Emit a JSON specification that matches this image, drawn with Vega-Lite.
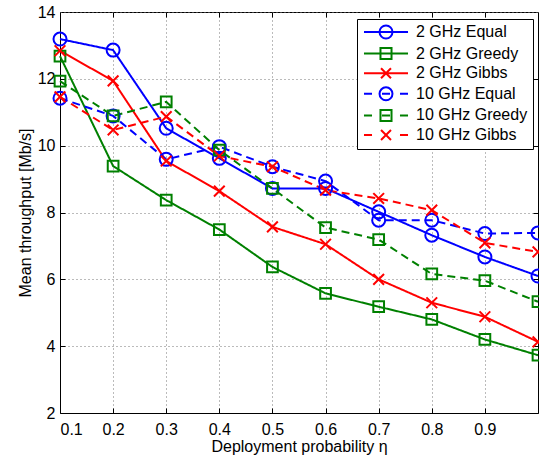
{
  "$schema": "https://vega.github.io/schema/vega-lite/v6.json",
  "autosize": {"type": "none"},
  "padding": {"left": 60, "top": 12, "right": 1, "bottom": 44},
  "width": 478,
  "height": 401,
  "background": "white",
  "config": {
    "font": "Liberation Sans",
    "view": {"stroke": "black", "strokeWidth": 1},
    "axis": {
      "domainColor": "black",
      "labelColor": "black",
      "labelFont": "Liberation Sans",
      "labelFontSize": 16,
      "titleFont": "Liberation Sans",
      "titleFontSize": 16,
      "titleFontWeight": "normal",
      "titleColor": "black",
      "gridColor": "#777777",
      "gridDash": [1, 3],
      "gridWidth": 1,
      "tickColor": "black",
      "tickWidth": 1
    },
    "legend": {
      "orient": "none",
      "legendX": 297,
      "legendY": 7,
      "strokeColor": "black",
      "fillColor": "white",
      "padding": 5,
      "labelFont": "Liberation Sans",
      "labelFontSize": 16,
      "labelColor": "black",
      "symbolOffset": 16,
      "labelOffset": 22,
      "symbolSize": 144,
      "symbolStrokeWidth": 2,
      "symbolOpacity": 1,
      "rowPadding": 0.6
    }
  },
  "resolve": {"axis": {"x": "independent", "y": "independent"}},
  "data": {
    "values": [
      {"x": 0.1, "y": 13.19, "series": "2 GHz Equal", "band": "2 GHz"},
      {"x": 0.2, "y": 12.86, "series": "2 GHz Equal", "band": "2 GHz"},
      {"x": 0.3, "y": 10.52, "series": "2 GHz Equal", "band": "2 GHz"},
      {"x": 0.4, "y": 9.62, "series": "2 GHz Equal", "band": "2 GHz"},
      {"x": 0.5, "y": 8.72, "series": "2 GHz Equal", "band": "2 GHz"},
      {"x": 0.6, "y": 8.72, "series": "2 GHz Equal", "band": "2 GHz"},
      {"x": 0.7, "y": 8.02, "series": "2 GHz Equal", "band": "2 GHz"},
      {"x": 0.8, "y": 7.32, "series": "2 GHz Equal", "band": "2 GHz"},
      {"x": 0.9, "y": 6.67, "series": "2 GHz Equal", "band": "2 GHz"},
      {"x": 1.0, "y": 6.10, "series": "2 GHz Equal", "band": "2 GHz"},
      {"x": 0.1, "y": 12.68, "series": "2 GHz Greedy", "band": "2 GHz"},
      {"x": 0.2, "y": 9.39, "series": "2 GHz Greedy", "band": "2 GHz"},
      {"x": 0.3, "y": 8.37, "series": "2 GHz Greedy", "band": "2 GHz"},
      {"x": 0.4, "y": 7.49, "series": "2 GHz Greedy", "band": "2 GHz"},
      {"x": 0.5, "y": 6.37, "series": "2 GHz Greedy", "band": "2 GHz"},
      {"x": 0.6, "y": 5.58, "series": "2 GHz Greedy", "band": "2 GHz"},
      {"x": 0.7, "y": 5.18, "series": "2 GHz Greedy", "band": "2 GHz"},
      {"x": 0.8, "y": 4.80, "series": "2 GHz Greedy", "band": "2 GHz"},
      {"x": 0.9, "y": 4.20, "series": "2 GHz Greedy", "band": "2 GHz"},
      {"x": 1.0, "y": 3.73, "series": "2 GHz Greedy", "band": "2 GHz"},
      {"x": 0.1, "y": 12.84, "series": "2 GHz Gibbs", "band": "2 GHz"},
      {"x": 0.2, "y": 11.94, "series": "2 GHz Gibbs", "band": "2 GHz"},
      {"x": 0.3, "y": 9.54, "series": "2 GHz Gibbs", "band": "2 GHz"},
      {"x": 0.4, "y": 8.64, "series": "2 GHz Gibbs", "band": "2 GHz"},
      {"x": 0.5, "y": 7.57, "series": "2 GHz Gibbs", "band": "2 GHz"},
      {"x": 0.6, "y": 7.05, "series": "2 GHz Gibbs", "band": "2 GHz"},
      {"x": 0.7, "y": 6.00, "series": "2 GHz Gibbs", "band": "2 GHz"},
      {"x": 0.8, "y": 5.30, "series": "2 GHz Gibbs", "band": "2 GHz"},
      {"x": 0.9, "y": 4.88, "series": "2 GHz Gibbs", "band": "2 GHz"},
      {"x": 1.0, "y": 4.13, "series": "2 GHz Gibbs", "band": "2 GHz"},
      {"x": 0.1, "y": 11.42, "series": "10 GHz Equal", "band": "10 GHz"},
      {"x": 0.2, "y": 10.89, "series": "10 GHz Equal", "band": "10 GHz"},
      {"x": 0.3, "y": 9.59, "series": "10 GHz Equal", "band": "10 GHz"},
      {"x": 0.4, "y": 9.97, "series": "10 GHz Equal", "band": "10 GHz"},
      {"x": 0.5, "y": 9.37, "series": "10 GHz Equal", "band": "10 GHz"},
      {"x": 0.6, "y": 8.94, "series": "10 GHz Equal", "band": "10 GHz"},
      {"x": 0.7, "y": 7.77, "series": "10 GHz Equal", "band": "10 GHz"},
      {"x": 0.8, "y": 7.77, "series": "10 GHz Equal", "band": "10 GHz"},
      {"x": 0.9, "y": 7.37, "series": "10 GHz Equal", "band": "10 GHz"},
      {"x": 1.0, "y": 7.39, "series": "10 GHz Equal", "band": "10 GHz"},
      {"x": 0.1, "y": 11.93, "series": "10 GHz Greedy", "band": "10 GHz"},
      {"x": 0.2, "y": 10.89, "series": "10 GHz Greedy", "band": "10 GHz"},
      {"x": 0.3, "y": 11.31, "series": "10 GHz Greedy", "band": "10 GHz"},
      {"x": 0.4, "y": 9.87, "series": "10 GHz Greedy", "band": "10 GHz"},
      {"x": 0.5, "y": 8.72, "series": "10 GHz Greedy", "band": "10 GHz"},
      {"x": 0.6, "y": 7.55, "series": "10 GHz Greedy", "band": "10 GHz"},
      {"x": 0.7, "y": 7.19, "series": "10 GHz Greedy", "band": "10 GHz"},
      {"x": 0.8, "y": 6.16, "series": "10 GHz Greedy", "band": "10 GHz"},
      {"x": 0.9, "y": 5.96, "series": "10 GHz Greedy", "band": "10 GHz"},
      {"x": 1.0, "y": 5.33, "series": "10 GHz Greedy", "band": "10 GHz"},
      {"x": 0.1, "y": 11.46, "series": "10 GHz Gibbs", "band": "10 GHz"},
      {"x": 0.2, "y": 10.47, "series": "10 GHz Gibbs", "band": "10 GHz"},
      {"x": 0.3, "y": 10.87, "series": "10 GHz Gibbs", "band": "10 GHz"},
      {"x": 0.4, "y": 9.69, "series": "10 GHz Gibbs", "band": "10 GHz"},
      {"x": 0.5, "y": 9.37, "series": "10 GHz Gibbs", "band": "10 GHz"},
      {"x": 0.6, "y": 8.67, "series": "10 GHz Gibbs", "band": "10 GHz"},
      {"x": 0.7, "y": 8.42, "series": "10 GHz Gibbs", "band": "10 GHz"},
      {"x": 0.8, "y": 8.07, "series": "10 GHz Gibbs", "band": "10 GHz"},
      {"x": 0.9, "y": 7.09, "series": "10 GHz Gibbs", "band": "10 GHz"},
      {"x": 1.0, "y": 6.82, "series": "10 GHz Gibbs", "band": "10 GHz"}
    ]
  },
  "layer": [
    {
      "mark": {"type": "line", "strokeWidth": 2},
      "encoding": {
        "x": {
          "field": "x",
          "type": "quantitative",
          "scale": {"domain": [0.1, 1.0], "nice": false},
          "axis": {
            "values": [0.1, 0.2, 0.3, 0.4, 0.5, 0.6, 0.7, 0.8, 0.9],
            "format": ".1f",
            "title": "Deployment probability η",
            "ticks": false,
            "labelPadding": 8,
            "titlePadding": 1
          }
        },
        "y": {
          "field": "y",
          "type": "quantitative",
          "scale": {"domain": [2, 14], "nice": false},
          "axis": {
            "values": [2, 4, 6, 8, 10, 12, 14],
            "title": "Mean throughput [Mb/s]",
            "ticks": false,
            "labelPadding": 5,
            "titlePadding": 4
          }
        },
        "color": {
          "field": "series",
          "type": "nominal",
          "scale": {
            "domain": ["2 GHz Equal", "2 GHz Greedy", "2 GHz Gibbs", "10 GHz Equal", "10 GHz Greedy", "10 GHz Gibbs"],
            "range": ["#0000FF", "#008000", "#FF0000", "#0000FF", "#008000", "#FF0000"]
          }
        },
        "detail": {"field": "series"},
        "strokeDash": {
          "field": "band",
          "type": "nominal",
          "scale": {"domain": ["2 GHz", "10 GHz"], "range": [[1, 0], [8, 5]]},
          "legend": null
        }
      }
    },
    {
      "transform": [{"filter": "indexof(datum.series, 'Equal') >= 0"}],
      "mark": {"type": "point", "shape": "circle", "filled": false, "strokeWidth": 2, "opacity": 1, "size": 169},
      "encoding": {
        "x": {
          "field": "x",
          "type": "quantitative",
          "axis": {
            "orient": "top",
            "values": [0.2, 0.3, 0.4, 0.5, 0.6, 0.7, 0.8, 0.9],
            "labels": false,
            "title": null,
            "grid": false,
            "domain": false,
            "ticks": true,
            "tickSize": 5,
            "offset": -5
          }
        },
        "y": {
          "field": "y",
          "type": "quantitative",
          "axis": {
            "orient": "right",
            "values": [4, 6, 8, 10, 12],
            "labels": false,
            "title": null,
            "grid": false,
            "domain": false,
            "ticks": true,
            "tickSize": 5,
            "offset": -5
          }
        },
        "color": {"field": "series", "type": "nominal"}
      }
    },
    {
      "transform": [{"filter": "indexof(datum.series, 'Greedy') >= 0"}],
      "mark": {"type": "point", "shape": "square", "filled": false, "strokeWidth": 2, "opacity": 1, "size": 115},
      "encoding": {
        "x": {
          "field": "x",
          "type": "quantitative",
          "axis": {
            "orient": "bottom",
            "values": [0.2, 0.3, 0.4, 0.5, 0.6, 0.7, 0.8, 0.9],
            "labels": false,
            "title": null,
            "grid": false,
            "domain": false,
            "ticks": true,
            "tickSize": 5,
            "offset": -5
          }
        },
        "y": {
          "field": "y",
          "type": "quantitative",
          "axis": {
            "orient": "left",
            "values": [4, 6, 8, 10, 12],
            "labels": false,
            "title": null,
            "grid": false,
            "domain": false,
            "ticks": true,
            "tickSize": 5,
            "offset": -5
          }
        },
        "color": {"field": "series", "type": "nominal"}
      }
    },
    {
      "transform": [{"filter": "indexof(datum.series, 'Gibbs') >= 0"}],
      "mark": {"type": "point", "shape": "M-1,-1L1,1M-1,1L1,-1", "filled": false, "strokeWidth": 2, "opacity": 1, "size": 115},
      "encoding": {
        "x": {"field": "x", "type": "quantitative", "axis": null},
        "y": {"field": "y", "type": "quantitative", "axis": null},
        "color": {"field": "series", "type": "nominal"}
      }
    },
    {
      "mark": {"type": "point", "filled": false, "strokeWidth": 2, "opacity": 0},
      "encoding": {
        "x": {"field": "x", "type": "quantitative", "axis": null},
        "y": {"field": "y", "type": "quantitative", "axis": null},
        "color": {"field": "series", "type": "nominal", "legend": {"title": null}},
        "shape": {
          "field": "series",
          "type": "nominal",
          "scale": {
            "domain": ["2 GHz Equal", "2 GHz Greedy", "2 GHz Gibbs", "10 GHz Equal", "10 GHz Greedy", "10 GHz Gibbs"],
            "range": [
              "M-3.67,0L3.67,0M-1.08,0A1.08,1.08 0 1,0 1.08,0A1.08,1.08 0 1,0 -1.08,0",
              "M-3.67,0L3.67,0M-0.92,-0.92L0.92,-0.92L0.92,0.92L-0.92,0.92Z",
              "M-3.67,0L3.67,0M-0.83,-0.83L0.83,0.83M-0.83,0.83L0.83,-0.83",
              "M-3.67,0L-2.33,0M-0.67,0L0.67,0M2.33,0L3.67,0M-1.08,0A1.08,1.08 0 1,0 1.08,0A1.08,1.08 0 1,0 -1.08,0",
              "M-3.67,0L-2.33,0M-0.67,0L0.67,0M2.33,0L3.67,0M-0.92,-0.92L0.92,-0.92L0.92,0.92L-0.92,0.92Z",
              "M-3.67,0L-2.33,0M2.33,0L3.67,0M-0.83,-0.83L0.83,0.83M-0.83,0.83L0.83,-0.83"
            ]
          },
          "legend": {"title": null}
        }
      }
    }
  ]
}
